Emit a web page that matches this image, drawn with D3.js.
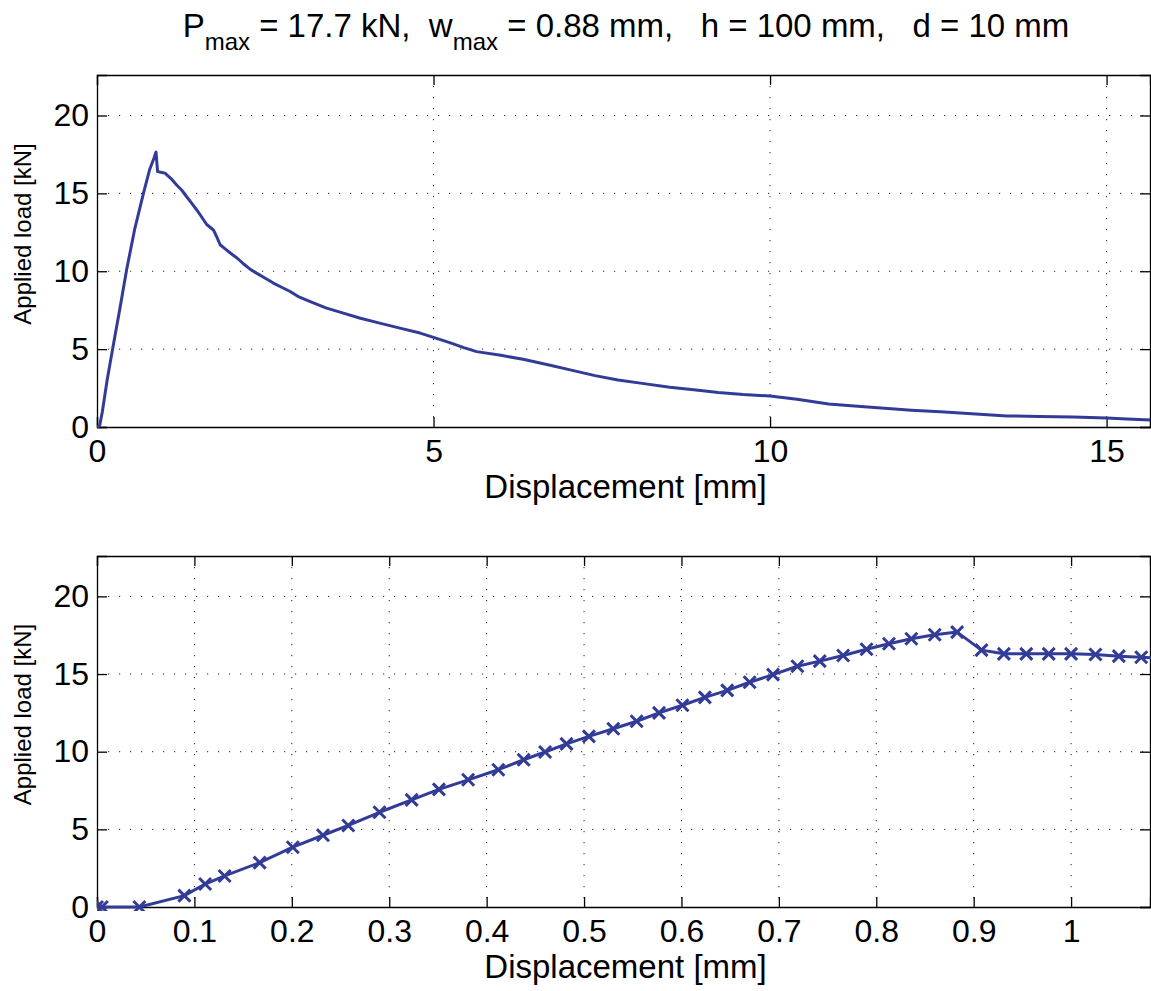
<!DOCTYPE html>
<html><head><meta charset="utf-8">
<script src="https://cdn.jsdelivr.net/npm/d3@7"></script>
<style>
body{margin:0;background:#fff;}
svg text{font-family:"Liberation Sans",Arial,Helvetica,sans-serif;fill:#000;white-space:pre;}
</style></head>
<body><svg id="c" width="1151" height="991"></svg>
<script>
// ---- data ----
const topDisp = [0,0.04,0.08,0.15,0.24,0.34,0.44,0.56,0.69,0.78,0.85,0.877,0.90,0.95,1.01,1.10,1.18,1.26,1.33,1.40,1.48,1.56,1.63,1.73,1.78,1.83,1.90,1.98,2.08,2.17,2.27,2.37,2.50,2.62,2.72,2.87,3.0,3.16,3.4,3.66,3.9,4.2,4.5,4.8,5.0,5.24,5.45,5.64,6.0,6.33,6.75,7.03,7.4,7.74,8.1,8.51,8.9,9.23,9.6,10.0,10.4,10.87,11.3,11.7,12.1,12.53,13.0,13.52,14.0,14.5,15.0,15.3,15.65];
const topLoad = [0,0.1,1.0,3.0,5.2,7.6,10.1,12.7,15.0,16.5,17.3,17.65,16.4,16.35,16.3,15.95,15.55,15.2,14.8,14.4,13.95,13.45,13.0,12.65,12.2,11.7,11.45,11.17,10.85,10.5,10.15,9.88,9.55,9.24,9.02,8.7,8.35,8.06,7.65,7.31,7.0,6.67,6.35,6.03,5.75,5.42,5.1,4.84,4.6,4.35,3.95,3.67,3.3,3.02,2.8,2.55,2.38,2.21,2.08,1.99,1.78,1.48,1.33,1.2,1.08,0.98,0.85,0.71,0.68,0.64,0.58,0.52,0.45];
const botDisp = [0,0.005,0.0435,0.0897,0.111,0.131,0.167,0.201,0.232,0.258,0.29,0.323,0.351,0.381,0.412,0.438,0.46,0.482,0.505,0.53,0.554,0.577,0.601,0.624,0.647,0.67,0.694,0.719,0.742,0.766,0.79,0.813,0.836,0.86,0.883,0.908,0.931,0.954,0.977,1.0,1.025,1.049,1.072,1.096];
const botLoad = [0,0,0,0.73,1.48,2.0,2.86,3.85,4.62,5.25,6.1,6.9,7.57,8.19,8.84,9.48,9.98,10.5,10.99,11.48,11.96,12.5,12.99,13.5,13.95,14.47,14.96,15.5,15.83,16.19,16.6,16.95,17.27,17.53,17.7,16.54,16.3,16.3,16.3,16.3,16.26,16.15,16.08,16.0];
const topXTicks = [0,5,10,15];
const botXTicks = [0,0.1,0.2,0.3,0.4,0.5,0.6,0.7,0.8,0.9,1];
const yTicks = [0,5,10,15,20];
const topXDomain = [0,15.645];
const botXDomain = [0,1.081];
const yDomain = [0,22.6];
const xLabel = "Displacement [mm]";
const yLabel = "Applied load [kN]";

const color = "#323c98";
const svg = d3.select("#c");

function panel(cfg){
  const {x0,x1,yTop,yBot,xDomain,xTicks,disp,load,markers,id,fmt} = cfg;
  const x = d3.scaleLinear().domain(xDomain).range([x0,x1]);
  const y = d3.scaleLinear().domain(yDomain).range([yBot,yTop]);
  const g = svg.append("g");
  g.append("clipPath").attr("id",id).append("rect")
    .attr("x",x0).attr("y",yTop-4).attr("width",x1-x0+4).attr("height",yBot-yTop+8);
  // grid
  g.append("g").selectAll("line").data(xTicks.filter(t=>t>0)).join("line")
    .attr("x1",d=>x(d)).attr("x2",d=>x(d)).attr("y1",yTop).attr("y2",yBot)
    .attr("stroke","#222").attr("stroke-width",1).attr("stroke-dasharray","1.2,9.8");
  g.append("g").selectAll("line").data(yTicks.filter(t=>t>0)).join("line")
    .attr("y1",d=>y(d)).attr("y2",d=>y(d)).attr("x1",x0).attr("x2",x1)
    .attr("stroke","#222").attr("stroke-width",1).attr("stroke-dasharray","1.2,9.8");
  // axes via d3
  const tl = 10;
  const bx = g.append("g").attr("transform",`translate(0,${yBot})`)
    .call(d3.axisBottom(x).tickValues(xTicks).tickSize(-tl).tickPadding(12).tickFormat(fmt));
  const tx = g.append("g").attr("transform",`translate(0,${yTop})`)
    .call(d3.axisTop(x).tickValues(xTicks).tickSize(-tl).tickFormat(""));
  const ly = g.append("g").attr("transform",`translate(${x0},0)`)
    .call(d3.axisLeft(y).tickValues(yTicks).tickSize(-tl).tickPadding(8).tickFormat(d3.format("d")));
  const ry = g.append("g").attr("transform",`translate(${x1},0)`)
    .call(d3.axisRight(y).tickValues(yTicks).tickSize(-tl).tickFormat(""));
  [bx,tx,ly,ry].forEach(a=>{
    a.select(".domain").attr("stroke","#000").attr("stroke-width",1.3);
    a.selectAll(".tick line").attr("stroke","#000").attr("stroke-width",1.3);
    a.selectAll(".tick text").attr("font-size",32).attr("font-family","Liberation Sans, Arial, sans-serif").attr("fill","#000");
  });
  // line
  const pts = disp.map((d,i)=>[d,load[i]]);
  const gl = g.append("g").attr("clip-path",`url(#${id})`);
  gl.append("path").datum(pts)
    .attr("d",d3.line().x(d=>x(d[0])).y(d=>y(d[1])))
    .attr("fill","none").attr("stroke",color).attr("stroke-width",3).attr("stroke-linejoin","round");
  if(markers){
    const s=6;
    gl.append("g").selectAll("path").data(pts).join("path")
      .attr("d",d=>{const cx=x(d[0]),cy=y(d[1]);return `M${cx-s},${cy-s}L${cx+s},${cy+s}M${cx-s},${cy+s}L${cx+s},${cy-s}`;})
      .attr("stroke",color).attr("stroke-width",3).attr("fill","none");
  }
  // labels
  g.append("text").attr("x",(x0+x1)/2+2).attr("y",yBot+71).attr("text-anchor","middle")
    .attr("font-size",33).text(xLabel);
  g.append("text").attr("transform",`translate(31,${(yTop+yBot)/2-17}) rotate(-90)`)
    .attr("text-anchor","middle").attr("font-size",24).text(yLabel);
}

panel({x0:97,x1:1150,yTop:75,yBot:427,xDomain:topXDomain,xTicks:topXTicks,disp:topDisp,load:topLoad,markers:false,id:"clipTop",fmt:d3.format("d")});
panel({x0:97,x1:1150,yTop:556,yBot:907,xDomain:botXDomain,xTicks:botXTicks,disp:botDisp,load:botLoad,markers:true,id:"clipBot",fmt:d=>d===0?"0":(d===1?"1":d3.format(".1f")(d))});

// title
const t = svg.append("text").attr("x",626).attr("y",37).attr("text-anchor","middle").attr("font-size",33);
t.append("tspan").text("P");
t.append("tspan").attr("font-size",24).attr("dy",13).text("max");
t.append("tspan").attr("dy",-13).text(" = 17.7 kN,  w");
t.append("tspan").attr("font-size",24).attr("dy",13).text("max");
t.append("tspan").attr("dy",-13).text(" = 0.88 mm,   h = 100 mm,   d = 10 mm");
</script></body></html>
